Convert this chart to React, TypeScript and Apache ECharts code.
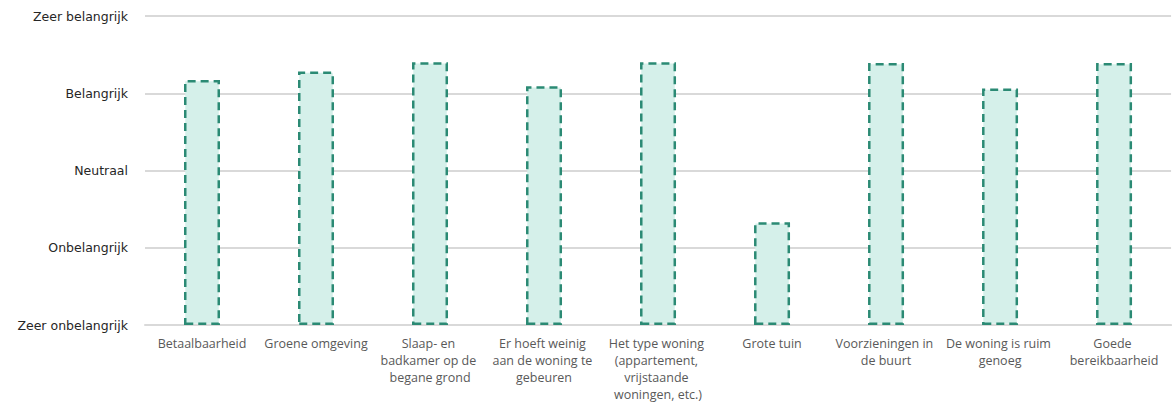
import React, { useEffect, useRef } from "react";
import * as echarts from "echarts";

const categories = [
  "Betaalbaarheid",
  "Groene omgeving",
  "Slaap- en badkamer op de begane grond",
  "Er hoeft weinig aan de woning te gebeuren",
  "Het type woning (appartement, vrijstaande woningen, etc.)",
  "Grote tuin",
  "Voorzieningen in de buurt",
  "De woning is ruim genoeg",
  "Goede bereikbaarheid",
];
const scores = [4.17, 4.28, 4.4, 4.09, 4.4, 2.33, 4.39, 4.06, 4.39];
const yTickLabels = ["Zeer onbelangrijk", "Onbelangrijk", "Neutraal", "Belangrijk", "Zeer belangrijk"];
const baseValue = 1;

export default function App() {
  const ref = useRef<HTMLDivElement>(null);
  useEffect(() => {
    document.body.style.margin = "0";
    const chart = echarts.init(ref.current!, null, { renderer: "svg" });
    chart.setOption({
      animation: false,
      grid: { left: 145, right: 0, top: 16, bottom: 81, containLabel: false },
      xAxis: {
        type: "category",
        data: categories,
        axisLine: { lineStyle: { color: "#d9d9d9", width: 2 } },
        axisTick: { show: false },
        axisLabel: {
          interval: 0,
          width: 110,
          overflow: "break",
          color: "#595959",
          fontFamily: "Open Sans",
          fontSize: 12.5,
          lineHeight: 17,
          margin: 10,
        },
      },
      yAxis: {
        type: "value",
        min: 1,
        max: 5,
        interval: 1,
        axisLine: { show: false },
        axisTick: { show: false },
        splitLine: { lineStyle: { color: "#d9d9d9", width: 2 } },
        axisLabel: {
          color: "#262626",
          fontFamily: "DejaVu Sans",
          fontSize: 12.5,
          margin: 17,
          formatter: (v: number) => yTickLabels[Math.round(v) - 1] ?? "",
        },
      },
      series: [
        {
          type: "bar",
          stack: "s",
          data: scores.map(() => baseValue),
          itemStyle: { color: "transparent" },
          barWidth: 36,
          silent: true,
        },
        {
          type: "bar",
          stack: "s",
          data: scores.map((v) => +(v - baseValue).toFixed(2)),
          barWidth: 36,
          itemStyle: {
            color: "#d5f0ea",
            borderColor: "#2b8a74",
            borderWidth: 2.5,
            borderType: [8, 5],
          },
        },
      ],
    });
    return () => chart.dispose();
  }, []);
  return <div ref={ref} style={{ width: 1172, height: 406 }} />;
}
